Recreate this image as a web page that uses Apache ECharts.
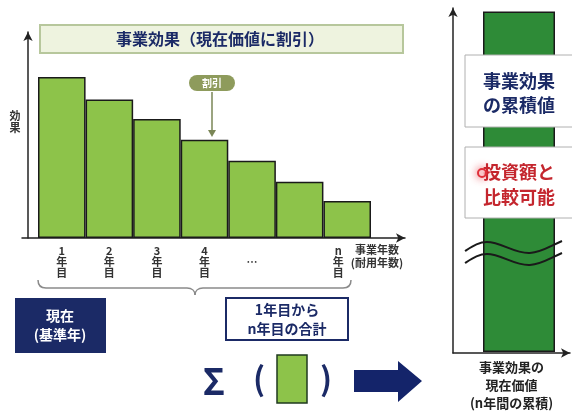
<!DOCTYPE html>
<html>
<head>
<meta charset="utf-8">
<script src="https://cdn.jsdelivr.net/npm/echarts@6/dist/echarts.min.js"></script>
<style>
  html, body { margin: 0; padding: 0; background: #fff; }
  #main { width: 572px; height: 412px; }
</style>
</head>
<body>
<div id="main"></div>
<script>
// 事業効果（現在価値に割引）
var yearLabels = ['1\n年\n目', '2\n年\n目', '3\n年\n目', '4\n年\n目', '\n…', '', 'n\n年\n目'];
var effectValues = [100, 86, 74, 61, 48, 35, 23];
var effectMax = 128;
var totalLabel = ['事業効果の\n現在価値\n(n年間の累積)'];
var totalValue = [99];
var totalMax = 100;

var navy = '#1b2a66';
var lightGreen = '#8dc34a';
var darkGreen = '#2e8b37';
var font = '"Noto Sans CJK JP", sans-serif';

var myChart = echarts.init(document.getElementById('main'));

var xData = yearLabels.map(function (v, i) {
    if (i == yearLabels.length - 1) return { value: v, textStyle: { padding: [0, 18, 0, 0] } };
    return v;
});

// 曲線ひとつ
function curve(p0, c1, c2, p1, color) {
    return { type: 'bezierCurve',
        shape: { x1: p0[0], y1: p0[1], cpx1: c1[0], cpy1: c1[1], cpx2: c2[0], cpy2: c2[1], x2: p1[0], y2: p1[1] },
        style: { stroke: color, lineWidth: color == '#1a1a1a' ? 2 : 1.5, fill: null } };
}
function seg(x1, y1, x2, y2, color) {
    return { type: 'line', shape: { x1: x1, y1: y1, x2: x2, y2: y2 }, style: { stroke: color, lineWidth: 1.5 } };
}
function wave(dy) {
    var k = '#1a1a1a';
    return [
        curve([465, 251 + dy], [473, 246 + dy], [479, 242 + dy], [487, 242 + dy], k),
        curve([487, 242 + dy], [501, 242 + dy], [515, 254 + dy], [530, 253 + dy], k),
        curve([530, 253 + dy], [542, 252 + dy], [550, 246 + dy], [562, 241 + dy], k)
    ];
}
var gray = '#8a8a8a';
var brace = [
    curve([38, 280], [38, 285], [41, 288], [46, 288], gray),
    seg(46, 288, 187, 288, gray),
    curve([187, 288], [192, 288], [195, 291], [195, 295], gray),
    curve([195, 295], [195, 291], [198, 288], [203, 288], gray),
    seg(203, 288, 343, 288, gray),
    curve([343, 288], [348, 288], [351, 285], [351, 280], gray)
];

var shapes = [
    // タイトル
    { type: 'rect', shape: { x: 40, y: 25, width: 363, height: 28 },
      style: { fill: '#eef3df', stroke: '#b7c79c', lineWidth: 2 } },
    { type: 'text', x: 220, y: 39,
      style: { text: '事業効果（現在価値に割引）', fill: navy, font: 'bold 16px ' + font,
               textAlign: 'center', textVerticalAlign: 'middle' } },
    // 効果
    { type: 'text', x: 15, y: 122,
      style: { text: '効\n果', fill: '#333', font: 'bold 11px ' + font, lineHeight: 12,
               textAlign: 'center', textVerticalAlign: 'middle' } },
    // 割引
    { type: 'rect', shape: { x: 189, y: 75, width: 46, height: 16, r: 8 },
      style: { fill: '#8e9b5c' } },
    { type: 'text', x: 212, y: 83,
      style: { text: '割引', fill: '#fff', font: 'bold 10px ' + font,
               textAlign: 'center', textVerticalAlign: 'middle' } },
    { type: 'line', shape: { x1: 212, y1: 92, x2: 212, y2: 135 },
      style: { stroke: '#7a8656', lineWidth: 1.5 } },
    { type: 'polygon', shape: { points: [[208, 130], [216, 130], [212, 137]] },
      style: { fill: '#7a8656' } },
    // 事業年数
    { type: 'text', x: 377, y: 256,
      style: { text: '事業年数\n(耐用年数)', fill: '#333', font: 'bold 11px ' + font, lineHeight: 13,
               textAlign: 'center', textVerticalAlign: 'middle' } },
    // 現在（基準年）
    { type: 'rect', shape: { x: 15, y: 298, width: 91, height: 55 },
      style: { fill: navy } },
    { type: 'text', x: 60, y: 325,
      style: { text: '現在\n(基準年)', fill: '#fff', font: 'bold 14px ' + font, lineHeight: 19,
               textAlign: 'center', textVerticalAlign: 'middle' } },
    // 1年目からn年目の合計
    { type: 'rect', shape: { x: 226, y: 298, width: 122, height: 42 },
      style: { fill: '#fff', stroke: navy, lineWidth: 2 } },
    { type: 'text', x: 287, y: 319,
      style: { text: '1年目から\nn年目の合計', fill: navy, font: 'bold 14px ' + font, lineHeight: 19,
               textAlign: 'center', textVerticalAlign: 'middle' } },
    // Σ（ ）
    { type: 'text', x: 214, y: 381,
      style: { text: 'Σ', fill: navy, font: 'bold 36px ' + font,
               textAlign: 'center', textVerticalAlign: 'middle' } },
    { type: 'text', x: 259, y: 379,
      style: { text: '(', fill: navy, font: 'bold 32px ' + font,
               textAlign: 'center', textVerticalAlign: 'middle' } },
    { type: 'rect', shape: { x: 277, y: 355, width: 30, height: 48 },
      style: { fill: lightGreen, stroke: '#1f3a1f', lineWidth: 1.5 } },
    { type: 'text', x: 326, y: 379,
      style: { text: ')', fill: navy, font: 'bold 32px ' + font,
               textAlign: 'center', textVerticalAlign: 'middle' } },
    // 矢印
    { type: 'polygon',
      shape: { points: [[354, 370], [398, 370], [398, 361], [422, 381], [398, 402], [398, 392], [354, 392]] },
      style: { fill: '#14246a' } },
    // 右の説明
    { type: 'rect', shape: { x: 465, y: 55, width: 110, height: 72 },
      style: { fill: '#fff', stroke: '#b0b0b0', lineWidth: 1 } },
    { type: 'text', x: 519, y: 93,
      style: { text: '事業効果\nの累積値', fill: navy, font: 'bold 18px ' + font, lineHeight: 24,
               textAlign: 'center', textVerticalAlign: 'middle' } },
    { type: 'rect', shape: { x: 465, y: 147, width: 110, height: 71 },
      style: { fill: '#fff', stroke: '#b0b0b0', lineWidth: 1 } },
    { type: 'text', x: 519, y: 185,
      style: { text: '投資額と\n比較可能', fill: '#c4262e', font: 'bold 18px ' + font, lineHeight: 25,
               textAlign: 'center', textVerticalAlign: 'middle' } },
    { type: 'circle', shape: { cx: 482, cy: 173, r: 4 },
      style: { fill: 'rgba(255,255,255,0.6)', stroke: '#e0303a', lineWidth: 2,
               shadowBlur: 8, shadowColor: 'rgba(230,40,50,0.8)' } }
].concat(brace, wave(0), wave(12));
shapes.forEach(function (s) { s.z = 100; });

var hidden = { show: false };
var option = {
    backgroundColor: '#fff',
    animation: false,
    textStyle: { fontFamily: font },
    grid: [
        { left: 38, top: 32, width: 333, height: 206 },   // 左の棒
        { left: 22, top: 32, width: 383, height: 206 },   // 左の横軸
        { left: 453, top: 8, right: 2, bottom: 59 },      // 右の軸
        { left: 468, top: 8, width: 102, bottom: 59 }     // 右の棒
    ],
    xAxis: [
        {
            gridIndex: 0, type: 'category', data: xData,
            axisLine: hidden, axisTick: hidden,
            axisLabel: { interval: 0, margin: 7, color: '#333', fontSize: 11, lineHeight: 11,
                fontWeight: 'bold', fontFamily: font, verticalAlign: 'top' }
        },
        {
            gridIndex: 1, type: 'value', min: 0, max: 1,
            axisLine: { show: true, symbol: ['none', 'arrow'], symbolSize: [7, 9],
                lineStyle: { color: '#222', width: 1.5 } },
            axisTick: hidden, axisLabel: hidden, splitLine: hidden
        },
        {
            gridIndex: 2, type: 'value', min: 0, max: 1,
            axisLine: { show: true, symbol: ['none', 'arrow'], symbolSize: [7, 9],
                lineStyle: { color: '#222', width: 1.5 } },
            axisTick: hidden, axisLabel: hidden, splitLine: hidden
        },
        {
            gridIndex: 3, type: 'category', data: totalLabel,
            axisLine: hidden, axisTick: hidden,
            axisLabel: { interval: 0, margin: 6, color: '#222', fontSize: 13, lineHeight: 18,
                fontWeight: 'bold', fontFamily: font, padding: [0, 15, 0, 0] }
        }
    ],
    yAxis: [
        {
            gridIndex: 0, type: 'value', min: 0, max: effectMax, offset: 10,
            axisLine: { show: true, symbol: ['none', 'arrow'], symbolSize: [7, 9],
                lineStyle: { color: '#222', width: 1.5 } },
            axisTick: hidden, axisLabel: hidden, splitLine: hidden
        },
        { gridIndex: 1, type: 'value', show: false, min: 0, max: 1 },
        {
            gridIndex: 2, type: 'value', min: 0, max: 1,
            axisLine: { show: true, symbol: ['none', 'arrow'], symbolSize: [7, 9],
                lineStyle: { color: '#222', width: 1.5 } },
            axisTick: hidden, axisLabel: hidden, splitLine: hidden
        },
        { gridIndex: 3, type: 'value', show: false, min: 0, max: totalMax }
    ],
    series: [
        {
            type: 'bar', xAxisIndex: 0, yAxisIndex: 0,
            barCategoryGap: 0, data: effectValues,
            itemStyle: { color: lightGreen, borderColor: '#1a1a1a', borderWidth: 1.5 }
        },
        {
            type: 'bar', xAxisIndex: 3, yAxisIndex: 3,
            barWidth: 72, data: totalValue,
            itemStyle: { color: darkGreen, borderColor: '#1a1a1a', borderWidth: 1.5 }
        }
    ],
    graphic: { elements: shapes }
};

myChart.setOption(option);
</script>
</body>
</html>
